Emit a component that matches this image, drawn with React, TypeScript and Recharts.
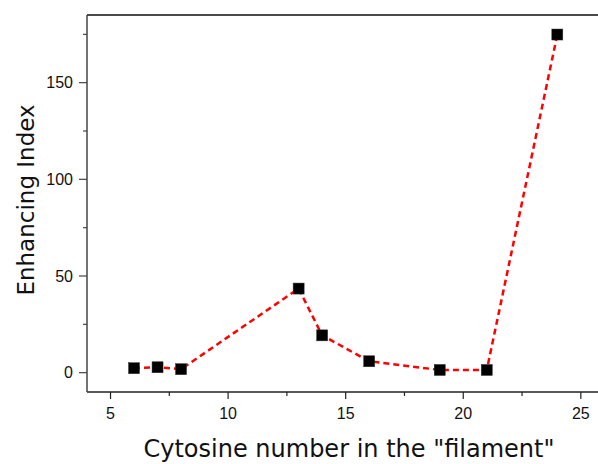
import React from 'react';
import { LineChart, Line, XAxis, YAxis, ReferenceLine, Label } from 'recharts';

// cytosine count vs enhancing index
const cytosineNumbers = [6, 7, 8, 13, 14, 16, 19, 21, 24];
const enhancingIndex = [2.3, 2.8, 1.8, 43.5, 19.3, 5.9, 1.4, 1.4, 174.9];

const xTicks = [5, 7.5, 10, 12.5, 15, 17.5, 20, 22.5, 25];
const yTicks = [0, 25, 50, 75, 100, 125, 150, 175];

const data = cytosineNumbers.map((c, i) => ({ c, value: enhancingIndex[i] }));

const tickFont = '"Liberation Sans", Arial, sans-serif';
const titleFont = '"DejaVu Sans", Verdana, sans-serif';

const XTick = ({ x, y, payload }: any) => {
  const major = payload.value % 5 === 0;
  return (
    <g>
      <line x1={x} x2={x} y1={y} y2={y + (major ? 7 : 4)} stroke="#222" strokeWidth={1.2} />
      {major && (
        <text x={x} y={y + 27} textAnchor="middle" fontSize={16} fontFamily={tickFont} fill="#111">
          {payload.value}
        </text>
      )}
    </g>
  );
};

const YTick = ({ x, y, payload }: any) => {
  const major = payload.value % 50 === 0;
  return (
    <g>
      <line x1={x} x2={x - (major ? 8 : 4)} y1={y} y2={y} stroke="#444" strokeWidth={1.2} />
      {major && (
        <text x={x - 14} y={y} dy="0.35em" textAnchor="end" fontSize={16} fontFamily={tickFont} fill="#111">
          {payload.value}
        </text>
      )}
    </g>
  );
};

const SquareDot = ({ cx, cy }: any) => {
  if (cx == null || cy == null) return null;
  return <rect x={cx - 5.5} y={cy - 5.5} width={11} height={11} fill="#000" stroke="#333" strokeWidth={0.5} />;
};

const YTitle = ({ viewBox }: any) => {
  const cx = viewBox.x + 34;
  const cy = viewBox.y + viewBox.height / 2 - 3.5;
  return (
    <text
      x={cx}
      y={cy}
      transform={`rotate(-90, ${cx}, ${cy})`}
      textAnchor="middle"
      fontSize={23}
      fontFamily={titleFont}
      fill="#111"
    >
      Enhancing Index
    </text>
  );
};

const XTitle = ({ viewBox }: any) => {
  return (
    <text x={349} y={viewBox.y + 65} textAnchor="middle" fontSize={24} fontFamily={titleFont} fill="#111">
      Cytosine number in the "filament"
    </text>
  );
};

export default function App() {
  return (
    <div style={{ position: 'absolute', left: 0, top: 0, width: 598, height: 464, background: '#fff' }}>
      <LineChart width={598} height={464} data={data} margin={{ top: 15, right: 0, bottom: 0, left: 0 }}>
        <XAxis
          dataKey="c"
          type="number"
          domain={[4, 25.73]}
          ticks={xTicks}
          interval={0}
          height={72}
          tickSize={0}
          tickMargin={0}
          tick={<XTick />}
          axisLine={{ stroke: '#222', strokeWidth: 1.5 }}
          allowDataOverflow
        >
          <Label content={<XTitle />} />
        </XAxis>
        <YAxis
          type="number"
          domain={[-10, 185]}
          ticks={yTicks}
          interval={0}
          width={87}
          tickSize={0}
          tickMargin={0}
          tick={<YTick />}
          axisLine={{ stroke: '#444', strokeWidth: 1.5 }}
          allowDataOverflow
        >
          <Label content={<YTitle />} />
        </YAxis>
        <ReferenceLine y={185} stroke="#4a4a4a" strokeWidth={2} ifOverflow="visible" />
        <Line
          type="linear"
          dataKey="value"
          stroke="#ff0000"
          strokeWidth={2.5}
          strokeDasharray="6 4"
          dot={<SquareDot />}
          activeDot={false}
          isAnimationActive={false}
        />
      </LineChart>
    </div>
  );
}
